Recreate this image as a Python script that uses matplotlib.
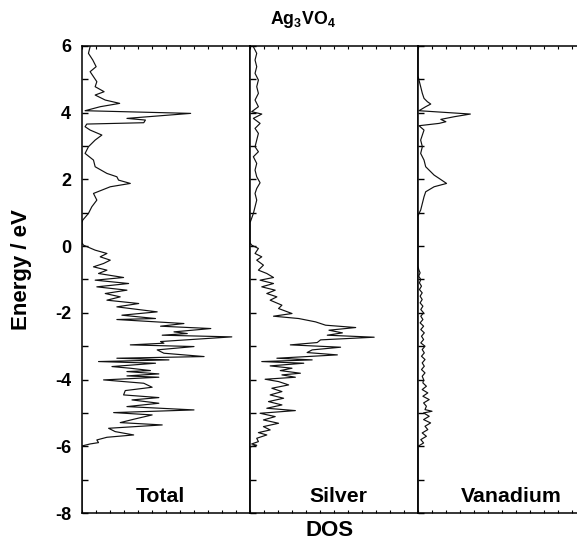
import matplotlib
matplotlib.use("Agg")
import matplotlib.pyplot as plt
from matplotlib.ticker import MultipleLocator, NullFormatter

plt.rcParams['font.family'] = ['Liberation Sans', 'DejaVu Sans']
plt.rcParams['mathtext.fontset'] = 'custom'
plt.rcParams['mathtext.rm'] = 'Liberation Sans:bold'
plt.rcParams['mathtext.bf'] = 'Liberation Sans:bold'
plt.rcParams['mathtext.it'] = 'Liberation Sans:bold'

title = "Ag$_3$VO$_4$"
panel_names = ["Total", "Silver", "Vanadium"]
y_ticks = [6, 4, 2, 0, -2, -4, -6, -8]

# ---- Total DOS ----
total_E = [6.05, 5.98, 5.78, 5.58, 5.38, 5.23, 5.08, 4.93, 4.78, 4.63, 4.53, 4.38, 4.28, 4.18, 4.06,
           3.98, 3.83, 3.78, 3.70, 3.66, 3.58, 3.48, 3.33, 3.18, 2.98, 2.78, 2.58, 2.38, 2.18, 2.08,
           1.98, 1.88, 1.78, 1.58, 1.38, 1.18, 0.98, 0.78, 0.70, 0.10,
           0.03, -0.12, -0.22, -0.32, -0.42, -0.52, -0.62, -0.72, -0.82, -0.94, -1.02, -1.12, -1.22,
           -1.32, -1.42, -1.52, -1.62, -1.72, -1.82, -1.97, -2.07, -2.17, -2.20, -2.32, -2.40, -2.47,
           -2.57, -2.62, -2.67, -2.72, -2.86, -2.91, -2.96, -3.01, -3.11, -3.21, -3.31, -3.36, -3.41,
           -3.46, -3.51, -3.61, -3.66, -3.73, -3.76, -3.83, -3.89, -3.93, -4.01, -4.11, -4.23, -4.33,
           -4.46, -4.54, -4.61, -4.71, -4.81, -4.91, -4.99, -5.06, -5.19, -5.29, -5.36, -5.46, -5.56,
           -5.66, -5.73, -5.81, -5.89, -5.93, -5.99, -6.10, -8.0]
total_D = [0.60, 0.58, 0.46, 0.77, 1.01, 0.58, 0.82, 1.06, 0.94, 1.58, 0.94, 1.66, 2.69, 1.30, 0.22,
           7.76, 3.21, 4.53, 4.41, 0.34, 0.22, 0.58, 1.42, 0.94, 0.46, 0.22, 0.82, 0.94, 1.78, 2.49,
           2.61, 3.45, 2.02, 0.82, 1.06, 0.70, 0.46, 0.05, 0.0, 0.0,
           0.10, 0.94, 1.78, 1.30, 2.02, 1.54, 0.82, 1.78, 1.18, 2.97, 0.94, 3.33, 1.06,
           3.21, 1.66, 2.73, 1.78, 4.05, 2.49, 5.37, 2.85, 5.25, 2.49, 7.28, 5.61, 9.20,
           6.57, 7.52, 5.73, 10.7, 5.61, 5.85, 3.45, 8.00, 5.37, 5.85, 8.72, 2.49, 6.21,
           1.18, 5.25, 2.14, 3.45, 4.89, 3.21, 5.49, 3.21, 5.49, 1.54, 4.41, 5.01, 3.09,
           2.97, 5.49, 3.57, 5.49, 3.21, 8.00, 2.26, 5.01, 3.69, 2.73, 5.73, 1.90, 2.37,
           3.69, 1.78, 1.06, 1.18, 0.58, 0.0, 0.0, 0.0]

# ---- Silver DOS ----
silver_E = [6.05, 5.98, 5.78, 5.58, 5.38, 5.18, 4.98, 4.78, 4.58, 4.38, 4.18, 4.03, 3.96, 3.83, 3.68,
            3.53, 3.38, 3.18, 2.98, 2.83, 2.68, 2.48, 2.28, 2.08, 1.90, 1.73, 1.58, 1.38, 1.18, 0.98,
            0.78, 0.70, 0.10,
            0.03, -0.07, -0.22, -0.32, -0.42, -0.57, -0.72, -0.82, -0.94, -1.02, -1.12, -1.22, -1.32,
            -1.42, -1.52, -1.62, -1.77, -1.87, -2.02, -2.10, -2.17, -2.27, -2.37, -2.44, -2.52, -2.60,
            -2.67, -2.73, -2.81, -2.89, -2.96, -3.03, -3.11, -3.19, -3.26, -3.36, -3.41, -3.46, -3.51,
            -3.59, -3.66, -3.73, -3.81, -3.86, -3.93, -3.99, -4.06, -4.16, -4.26, -4.36, -4.46, -4.56,
            -4.66, -4.76, -4.86, -4.93, -5.01, -5.11, -5.21, -5.31, -5.41, -5.51, -5.59, -5.66, -5.76,
            -5.86, -5.93, -5.97, -6.02, -8.0]
silver_D = [0.24, 0.24, 0.48, 0.36, 0.48, 0.36, 0.60, 0.48, 0.60, 0.36, 0.60, 0.12, 0.84, 0.24, 0.72,
            0.36, 0.60, 0.48, 0.36, 0.60, 0.24, 0.48, 0.36, 0.48, 0.72, 0.48, 0.36, 0.48, 0.36, 0.24,
            0.07, 0.0, 0.0,
            0.12, 0.60, 0.36, 0.84, 0.48, 0.96, 0.60, 1.20, 1.68, 0.72, 1.68, 0.84, 1.80,
            1.20, 1.92, 1.44, 2.28, 2.04, 3.00, 1.68, 3.48, 4.68, 5.40, 7.55, 5.64, 6.60,
            5.52, 8.87, 5.04, 4.80, 2.88, 6.47, 4.44, 4.08, 6.24, 1.92, 4.44, 0.84, 3.84,
            1.44, 3.00, 2.16, 3.60, 2.28, 3.24, 1.08, 2.04, 2.76, 1.56, 2.28, 1.44, 2.40,
            1.32, 2.28, 1.20, 3.24, 0.72, 1.80, 0.96, 2.04, 0.96, 1.44, 0.60, 1.20, 0.48,
            0.60, 0.12, 0.48, 0.0, 0.0]

# ---- Vanadium DOS ----
vanad_E = [6.05, 5.10, 4.98, 4.78, 4.58, 4.43, 4.33, 4.26, 4.18, 4.06, 3.96, 3.88, 3.80, 3.73, 3.68,
           3.61, 3.48, 3.33, 3.18, 2.98, 2.78, 2.58, 2.38, 2.23, 2.13, 2.03, 1.88, 1.78, 1.63, 1.48,
           1.28, 1.08, 0.98, 0.90, -0.60,
           -0.70, -0.80, -0.90, -1.00, -1.10, -1.20, -1.30, -1.40, -1.50, -1.60, -1.70, -1.80, -1.90,
           -2.00, -2.10, -2.20, -2.30, -2.40, -2.50, -2.60, -2.70, -2.80, -2.90, -3.00, -3.10, -3.20,
           -3.30, -3.40, -3.50, -3.60, -3.70, -3.80, -3.90, -4.00, -4.10, -4.20, -4.30, -4.40, -4.50,
           -4.60, -4.70, -4.80, -4.90, -4.95, -5.00, -5.10, -5.20, -5.30, -5.40, -5.50, -5.60, -5.70,
           -5.80, -5.90, -6.00, -8.0]
vanad_D = [0.0, 0.0, 0.07, 0.19, 0.31, 0.43, 0.67, 0.91, 0.55, 0.07, 3.74, 2.59, 1.63, 1.99, 1.51,
           0.07, 0.43, 0.31, 0.19, 0.31, 0.19, 0.43, 0.55, 0.91, 1.15, 1.51, 2.04, 1.15, 0.55, 0.43,
           0.31, 0.19, 0.07, 0.0, 0.0,
           0.05, 0.15, 0.05, 0.20, 0.10, 0.25, 0.10, 0.30, 0.15, 0.30, 0.15, 0.35, 0.20,
           0.40, 0.20, 0.35, 0.15, 0.40, 0.20, 0.45, 0.25, 0.40, 0.20, 0.50, 0.30, 0.45,
           0.25, 0.50, 0.30, 0.45, 0.25, 0.50, 0.30, 0.40, 0.35, 0.60, 0.30, 0.70, 0.35,
           0.80, 0.40, 0.60, 0.50, 1.00, 0.40, 0.80, 0.40, 0.90, 0.50, 0.70, 0.30, 0.60,
           0.20, 0.40, 0.0, 0.0]

energies = [total_E, silver_E, vanad_E]
doses = [total_D, silver_D, vanad_D]

W, H = 577, 547
fig = plt.figure(figsize=(W / 100, H / 100), dpi=100)

left_px, top_px, bot_px, pw = 82, 46, 513, 168
label_x_px = [160.5, 338, 511]
for i in range(3):
    ax = fig.add_axes([(left_px + i * pw) / W, 1 - bot_px / H, pw / W, (bot_px - top_px) / H])
    ax.plot(doses[i], energies[i], color='#111111', lw=0.85)
    ax.set_ylim(-8, 6)
    ax.set_xlim(0, 12)
    ax.yaxis.set_minor_locator(MultipleLocator(1))
    ax.xaxis.set_major_locator(MultipleLocator(1))
    ax.xaxis.set_major_formatter(NullFormatter())
    ax.tick_params(axis='y', which='both', direction='in', left=True, right=False,
                   length=4, width=1.0, pad=8, labelsize=13)
    ax.tick_params(axis='x', which='both', direction='in', top=True, bottom=True,
                   length=2.5, width=0.8)
    for s in ax.spines.values():
        s.set_linewidth(1.1)
    if i == 2:
        ax.spines['right'].set_visible(False)
    ax.set_yticks(y_ticks)
    if i == 0:
        ax.set_yticklabels([str(t) for t in y_ticks], fontweight='bold', fontsize=13)
    else:
        ax.tick_params(axis='y', labelleft=False)
    fig.text(label_x_px[i] / W, 1 - 502 / H, panel_names[i], ha='center', va='baseline',
             fontsize=15.3, fontweight='bold')

fig.text(303 / W, 1 - 20 / H, title, ha='center', va='center', fontsize=12.8, fontweight='bold')
fig.text(330 / W, 1 - 531 / H, "DOS", ha='center', va='center', fontsize=16, fontweight='bold')
fig.text(22 / W, 1 - 270 / H, "Energy / eV", ha='center', va='center', rotation=90,
         fontsize=16, fontweight='bold')

fig.savefig("out.png", dpi=100)
